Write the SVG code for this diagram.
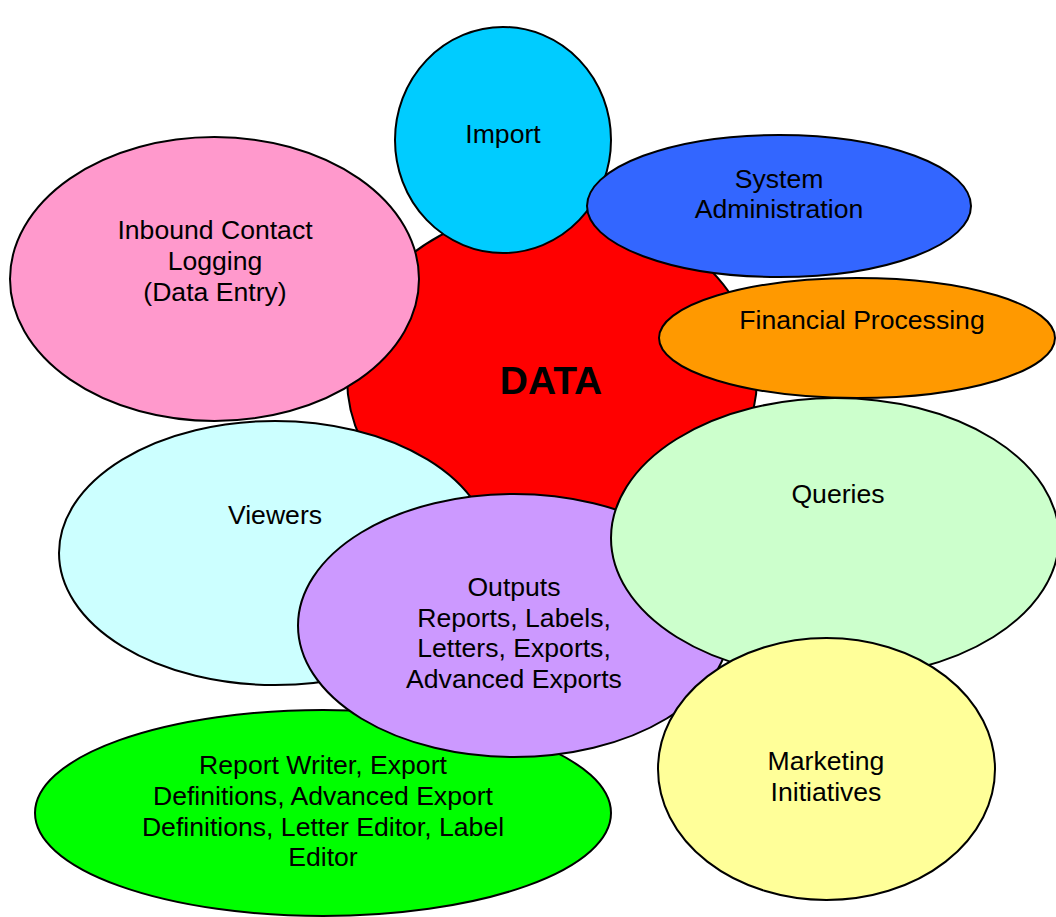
<svg xmlns="http://www.w3.org/2000/svg" width="1056" height="917" viewBox="0 0 1056 917">
  <style>
    ellipse { stroke: #000; stroke-width: 2; }
    text { font-family: "Liberation Sans", Arial, sans-serif; font-size: 26.6px; fill: #000; text-anchor: middle; }
    .title { font-size: 39px; font-weight: bold; }
  </style>
  <rect width="1056" height="917" fill="#fff"/>

  <!-- central data hub -->
  <g id="data">
    <ellipse cx="552" cy="378" rx="205" ry="170" fill="#FF0000"/>
    <text class="title" x="551" y="394">DATA</text>
  </g>

  <g id="import">
    <ellipse cx="503" cy="140" rx="108" ry="113" fill="#00CCFF"/>
    <text x="503" y="143">Import</text>
  </g>

  <g id="system-administration">
    <ellipse cx="779" cy="206" rx="192" ry="71" fill="#3366FF"/>
    <text x="779" y="188">System</text>
    <text x="779" y="218">Administration</text>
  </g>

  <g id="inbound-contact-logging">
    <ellipse cx="214.5" cy="279" rx="204.5" ry="142" fill="#FF99CC"/>
    <text x="215" y="239">Inbound Contact</text>
    <text x="215" y="270">Logging</text>
    <text x="215" y="301">(Data Entry)</text>
  </g>

  <g id="financial-processing">
    <ellipse cx="857" cy="338" rx="198" ry="60" fill="#FF9900"/>
    <text x="862" y="329">Financial Processing</text>
  </g>

  <g id="viewers">
    <ellipse cx="275" cy="553" rx="216" ry="132" fill="#CCFFFF"/>
    <text x="275" y="524">Viewers</text>
  </g>

  <g id="report-writer">
    <ellipse cx="323" cy="813" rx="288" ry="103" fill="#00FF00"/>
    <text x="323" y="774">Report Writer, Export</text>
    <text x="323" y="805">Definitions, Advanced Export</text>
    <text x="323" y="836">Definitions, Letter Editor, Label</text>
    <text x="323" y="866">Editor</text>
  </g>

  <g id="outputs">
    <ellipse cx="514" cy="625.5" rx="216" ry="131.5" fill="#CC99FF"/>
    <text x="514" y="596">Outputs</text>
    <text x="514" y="627">Reports, Labels,</text>
    <text x="514" y="657">Letters, Exports,</text>
    <text x="514" y="688">Advanced Exports</text>
  </g>

  <g id="queries">
    <ellipse cx="835" cy="538" rx="224" ry="140" fill="#CCFFCC"/>
    <text x="838" y="503">Queries</text>
  </g>

  <g id="marketing-initiatives">
    <ellipse cx="826.5" cy="769" rx="168.5" ry="131" fill="#FFFF99"/>
    <text x="826" y="770">Marketing</text>
    <text x="826" y="801">Initiatives</text>
  </g>
</svg>
